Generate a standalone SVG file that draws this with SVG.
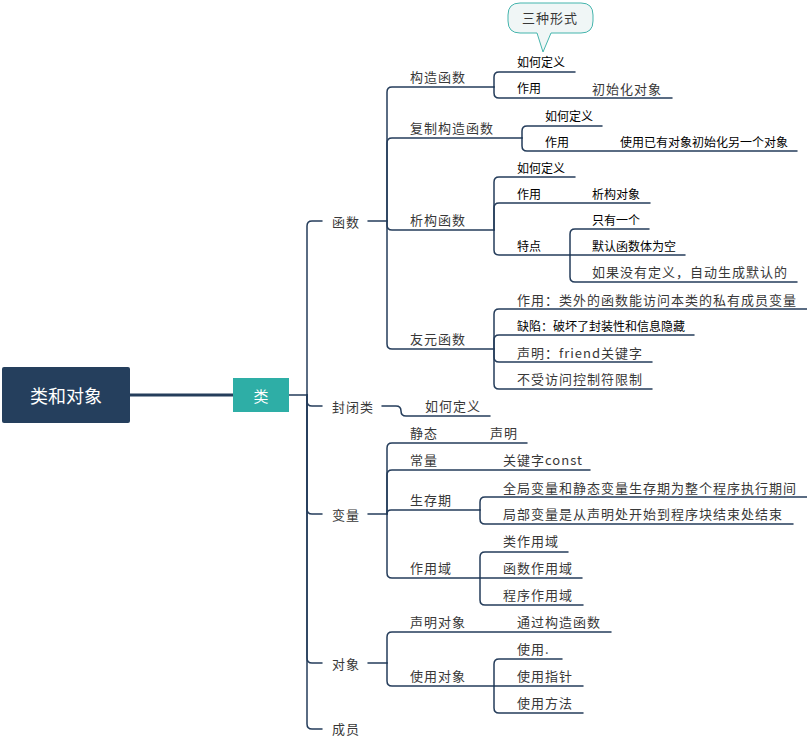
<svg xmlns="http://www.w3.org/2000/svg" width="807" height="739" viewBox="0 0 807 739">
<style>
.ln{fill:none;stroke:#253d5b;stroke-width:1.5;stroke-linecap:round}
.a{font-family:"Noto Sans CJK SC","Noto Sans",sans-serif;font-size:13px;letter-spacing:1px;fill:#383838;dominant-baseline:central;transform:translateY(-1px)}
.b{font-family:"Noto Sans CJK SC","Noto Sans",sans-serif;font-size:12px;fill:#000;dominant-baseline:central;transform:translateY(-1px)}
.w{font-family:"Noto Sans CJK SC","Noto Sans",sans-serif;fill:#fff;dominant-baseline:central;text-anchor:middle}
</style>
<rect width="807" height="739" fill="#fff"/>
<g id="connectors">
<path d="M130 395H233" fill="none" stroke="#253d5b" stroke-width="3"/>
<path class="ln" d="M289 395H307"/>
<path class="ln" d="M307 395V226Q307 221 312 221H322"/>
<path class="ln" d="M307 395V401Q307 406 312 406H322"/>
<path class="ln" d="M307 395V509Q307 514 312 514H322"/>
<path class="ln" d="M307 395V658Q307 663 312 663H322"/>
<path class="ln" d="M307 395V724Q307 729 312 729H322"/>
<path class="ln" d="M368 221H387"/>
<path class="ln" d="M387 221V92Q387 87 392 87H494"/>
<path class="ln" d="M387 221V143Q387 138 392 138H522"/>
<path class="ln" d="M387 221V225Q387 230 392 230H494"/>
<path class="ln" d="M387 221V344Q387 349 392 349H494"/>
<path class="ln" d="M494 87V77Q494 72 499 72H575"/>
<path class="ln" d="M494 87V93Q494 98 499 98H672"/>
<path class="ln" d="M522 138V131Q522 126 527 126H602"/>
<path class="ln" d="M522 138V146Q522 151 527 151H797"/>
<path class="ln" d="M494 230V182Q494 177 499 177H575"/>
<path class="ln" d="M494 230V208Q494 203 499 203H650"/>
<path class="ln" d="M494 230V250Q494 255 499 255H685"/>
<path class="ln" d="M570 255V234Q570 229 575 229H649"/>
<path class="ln" d="M570 255V277Q570 282 575 282H797"/>
<path class="ln" d="M494 349V314Q494 309 499 309H807"/>
<path class="ln" d="M494 349V340Q494 335 499 335H694"/>
<path class="ln" d="M494 349V357Q494 362 499 362H652"/>
<path class="ln" d="M494 349V384Q494 389 499 389H652"/>
<path class="ln" d="M382 406H396Q401 406 401 411Q401 416 406 416H490"/>
<path class="ln" d="M368 514H387"/>
<path class="ln" d="M387 514V448Q387 443 392 443H527"/>
<path class="ln" d="M387 514V475Q387 470 392 470H590"/>
<path class="ln" d="M387 514Q387 510 391 510H480"/>
<path class="ln" d="M387 514V573Q387 578 392 578H582"/>
<path class="ln" d="M480 510V502Q480 497 485 497H807"/>
<path class="ln" d="M480 510V519Q480 524 485 524H793"/>
<path class="ln" d="M480 578V557Q480 552 485 552H568"/>
<path class="ln" d="M480 578V600Q480 605 485 605H583"/>
<path class="ln" d="M368 663H387"/>
<path class="ln" d="M387 663V637Q387 632 392 632H611"/>
<path class="ln" d="M387 663V681Q387 686 392 686H583"/>
<path class="ln" d="M494 686V664Q494 659 499 659H562"/>
<path class="ln" d="M494 686V708Q494 713 499 713H583"/>
</g>
<g id="root"><rect x="2" y="367" width="128" height="56" rx="2" fill="#253f5d"/><text class="w" x="66" y="395" font-size="18">类和对象</text></g>
<g id="lei"><rect x="233" y="378" width="56" height="34" fill="#2eaea6"/><text class="w" x="261" y="395" font-size="15">类</text></g>
<g id="callout"><path d="M520 3H581Q593 3 593 15V21Q593 33 581 33H551L543 52L537 33H520Q508 33 508 21V15Q508 3 520 3Z" fill="#f0f6f6" stroke="#45b5ad" stroke-width="1"/><text class="a" x="550" y="18" text-anchor="middle">三种形式</text></g>
<g id="hanshu"><text class="a" x="332" y="222">函数</text></g>
<g id="gouzao"><text class="a" x="410" y="77">构造函数</text></g>
<g id="gouzao-def"><text class="b" x="517" y="62">如何定义</text></g>
<g id="gouzao-use"><text class="b" x="517" y="88">作用</text></g>
<g id="gouzao-init"><text class="a" x="592" y="89">初始化对象</text></g>
<g id="fuzhi"><text class="a" x="410" y="128">复制构造函数</text></g>
<g id="fuzhi-def"><text class="b" x="545" y="116">如何定义</text></g>
<g id="fuzhi-use"><text class="b" x="545" y="142">作用</text></g>
<g id="fuzhi-desc"><text class="b" x="620" y="142">使用已有对象初始化另一个对象</text></g>
<g id="xigou"><text class="a" x="410" y="220">析构函数</text></g>
<g id="xigou-def"><text class="b" x="517" y="168">如何定义</text></g>
<g id="xigou-use"><text class="b" x="517" y="194">作用</text></g>
<g id="xigou-obj"><text class="b" x="592" y="194">析构对象</text></g>
<g id="xigou-feat"><text class="b" x="517" y="246">特点</text></g>
<g id="feat1"><text class="b" x="592" y="220">只有一个</text></g>
<g id="feat2"><text class="b" x="592" y="246">默认函数体为空</text></g>
<g id="feat3"><text class="a" x="592" y="272">如果没有定义，自动生成默认的</text></g>
<g id="youyuan"><text class="a" x="410" y="339">友元函数</text></g>
<g id="yy1"><text class="a" x="517" y="300">作用：类外的函数能访问本类的私有成员变量</text></g>
<g id="yy2"><text class="b" x="517" y="326">缺陷：破坏了封装性和信息隐藏</text></g>
<g id="yy3"><text class="a" x="517" y="353">声明：friend关键字</text></g>
<g id="yy4"><text class="a" x="517" y="379">不受访问控制符限制</text></g>
<g id="fengbi"><text class="a" x="332" y="407">封闭类</text></g>
<g id="fengbi-def"><text class="a" x="425" y="406">如何定义</text></g>
<g id="bianliang"><text class="a" x="332" y="515">变量</text></g>
<g id="jingtai"><text class="a" x="410" y="433">静态</text></g>
<g id="jingtai-sm"><text class="a" x="490" y="433">声明</text></g>
<g id="changliang"><text class="a" x="410" y="460">常量</text></g>
<g id="const"><text class="a" x="503" y="460">关键字const</text></g>
<g id="shengcunqi"><text class="a" x="410" y="500">生存期</text></g>
<g id="scq1"><text class="a" x="503" y="488">全局变量和静态变量生存期为整个程序执行期间</text></g>
<g id="scq2"><text class="a" x="503" y="514">局部变量是从声明处开始到程序块结束处结束</text></g>
<g id="zuoyongyu"><text class="a" x="410" y="568">作用域</text></g>
<g id="zyy1"><text class="a" x="503" y="541">类作用域</text></g>
<g id="zyy2"><text class="a" x="503" y="568">函数作用域</text></g>
<g id="zyy3"><text class="a" x="503" y="595">程序作用域</text></g>
<g id="duixiang"><text class="a" x="332" y="664">对象</text></g>
<g id="smdx"><text class="a" x="410" y="622">声明对象</text></g>
<g id="smdx1"><text class="a" x="517" y="622">通过构造函数</text></g>
<g id="sydx"><text class="a" x="410" y="676">使用对象</text></g>
<g id="sy1"><text class="a" x="517" y="649">使用.</text></g>
<g id="sy2"><text class="a" x="517" y="676">使用指针</text></g>
<g id="sy3"><text class="a" x="517" y="703">使用方法</text></g>
<g id="chengyuan"><text class="a" x="332" y="729">成员</text></g>
</svg>
